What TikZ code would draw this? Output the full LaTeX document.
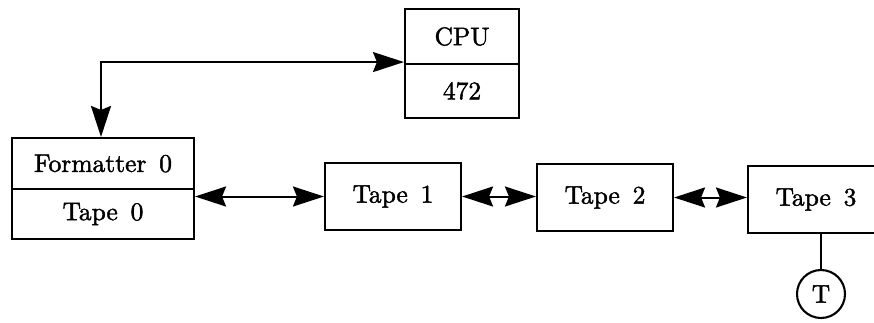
\documentclass[tikz,border=0pt]{standalone}
\usepackage{fontspec}
\usetikzlibrary{arrows.meta}
\newfontfamily\lblfont{lmroman10-regular.otf}[FakeBold=1.6]
\begin{document}
\begin{tikzpicture}[x=1pt,y=-1pt,
  box/.style={draw,line width=2.1pt,inner sep=0pt,font=\lblfont\fontsize{25.5}{30}\selectfont},
  circ/.style={draw,circle,line width=2.1pt,inner sep=0pt,minimum size=48pt,font=\lblfont\fontsize{25.5}{30}\selectfont},
  link/.style={line width=2pt,{Stealth[length=31pt,width=20pt,inset=4pt]}-{Stealth[length=31pt,width=20pt,inset=4pt]}},
  plain/.style={line width=2.1pt}]
\useasboundingbox (0,0) rectangle (874,322);
\clip (0,0) rectangle (874,322);
\newcommand{\wsp}{\hspace{0.5em}}
% CPU
\node[box,minimum width=114pt,minimum height=55pt] (cpu) at (462,36.5) {CPU};
\node[box,minimum width=114pt,minimum height=54pt] (cpunum) at (462,91) {472};
% Formatter
\node[box,minimum width=182pt,minimum height=51pt] (fmt) at (103,163.5) {Formatter\wsp 0};
\node[box,minimum width=182pt,minimum height=50pt] (tape0) at (103,214) {Tape\wsp 0};
% Tapes
\node[box,minimum width=136pt,minimum height=67pt] (tape1) at (393,196.5) {Tape\wsp 1};
\node[box,minimum width=136pt,minimum height=67pt] (tape2) at (605,197.5) {Tape\wsp 2};
\node[box,minimum width=136pt,minimum height=67pt] (tape3) at (816,199.5) {Tape\wsp 3};
\node[circ] (t) at (821,294) {T};
% connectors
\draw[link] ([xshift=-2pt]fmt.north) |- ([yshift=3pt]cpu.south west);
\draw[link] (tape1.west -| tape0.east) -- (tape1.west);
\draw[link] (tape1.east) -- (tape1.east -| tape2.west);
\draw[link] (tape2.east) -- (tape2.east -| tape3.west);
\draw[plain] (t.north |- tape3.south) -- (t.north);
\end{tikzpicture}
\end{document}
